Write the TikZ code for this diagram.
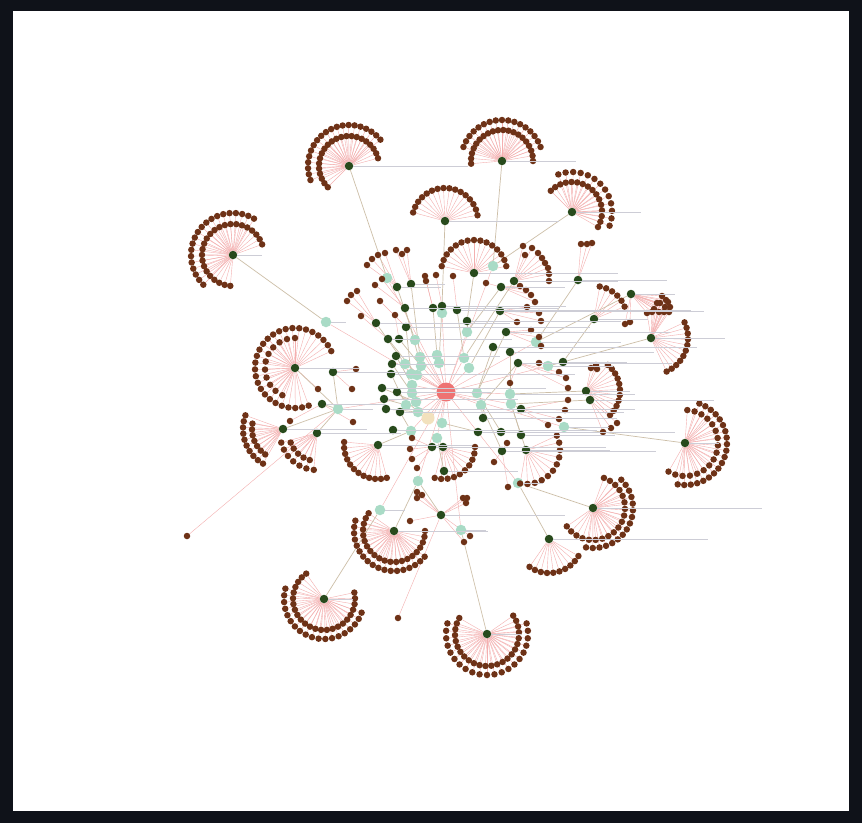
\documentclass[tikz,border=0pt]{standalone}
\usepackage{tikz}
\definecolor{framebg}{HTML}{0F1219}
\definecolor{hubgreen}{HTML}{284A1C}
\definecolor{leafbrown}{HTML}{6E3217}
\definecolor{mintgreen}{HTML}{A9DBC6}
\definecolor{rootred}{HTML}{EE7272}
\definecolor{seedbeige}{HTML}{F2E1BD}
\definecolor{edgepink}{HTML}{F4AFAF}
\definecolor{edgetan}{HTML}{CDBFA8}
\definecolor{labelgray}{HTML}{CDCDD6}
\pgfdeclarelayer{bg}
\pgfdeclarelayer{edges}
\pgfsetlayers{bg,edges,main}
\tikzset{
  hub/.style={circle, fill=hubgreen, inner sep=0pt, minimum size=8.5pt},
  leaf/.style={circle, fill=leafbrown, inner sep=0pt, minimum size=6.5pt},
  mint/.style={circle, fill=mintgreen, inner sep=0pt, minimum size=10.5pt},
  rootnode/.style={circle, fill=rootred, inner sep=0pt, minimum size=19pt},
  seed/.style={circle, fill=seedbeige, inner sep=0pt, minimum size=13pt},
  pinkedge/.style={draw=edgepink, line width=0.4pt},
  tanedge/.style={draw=edgetan, line width=0.7pt},
  lbl/.style={draw=labelgray, line width=0.35pt}
}
% fans of leaves: hub/tag/from/to/count/radius
\def\fanlist{h1/a/20/265/24/31, h1/b/60/225/20/42, h2/a/15/225/22/30,
  h2/b/40/200/20/41, h3/a/0/185/20/31, h3/b/20/160/17/41, h4/a/10/165/16/33,
  h5/a/-30/135/16/30, h5/b/-20/110/13/40, h6/a/12/168/15/33,
  h7/a/25/290/28/40, h7/b/90/245/11/30, h8/a/160/240/10/40, h8/b/170/235/7/31,
  g46/a/195/265/7/37, g46/b/200/255/5/28, h9/a/25/-65/11/37,
  h11/a/86/-120/17/33, h11/b/70/-100/20/42, h12/a/70/-145/19/32,
  h12/b/45/-100/16/40, h13/a/-125/-30/10/34, h14/a/145/360/21/31,
  h14/b/165/320/18/40, h15/a/125/372/24/31, h15/b/165/340/19/40,
  h16/a/150/395/24/32, h16/b/165/375/21/41, g32/a/50/-45/11/34,
  g39/a/0/-105/10/32, g41/a/25/-100/11/34, g42/a/175/285/12/34,
  g47/a/22/80/6/33}
% loose leaves: x/y/parent
\def\leaflist{367/265/g4, 372/259/g4, 378/255/g4, 385/253/g4,
  396/250/g5, 402/254/g5, 407/250/g5, 347/301/g12, 351/295/g12, 357/291/g12,
  361/316/g15, 375/285/g6, 382/279/g6, 380/301/g13, 395/315/g16, 425/276/g7,
  426/281/g7, 436/275/g8, 453/276/g9, 523/246/g1, 532/248/g1, 538/253/g1,
  542/258/g1, 545/263/g1, 548/268/g1, 549/274/g1, 549/281/g1, 525/255/g1,
  486/283/g2, 520/286/g2, 526/290/g2, 531/295/g2, 535/302/g2, 527/307/g10,
  539/313/g10, 541/321/g10, 517/322/g10, 531/330/g14, 539/337/g14, 541/346/g14,
  581/244/g3, 587/244/g3, 592/243/g3, 539/363/g22, 559/372/g22, 566/378/g22,
  568/388/g22, 510/383/g22, 568/400/g31, 565/410/g31, 559/419/g31, 548/425/g31,
  591/368/g32, 596/365/g32, 597/369/g32, 617/423/g33, 611/428/g33, 603/432/g33,
  507/443/g40, 494/462/g40, 508/487/g40, 356/369/g24, 352/389/g24, 318/389/h7,
  290/421/g45, 353/422/g45, 412/438/g38, 410/449/g38, 412/459/g38, 417/468/g38,
  417/492/g44, 422/495/g44, 417/498/g44, 463/498/g44, 467/498/g44, 466/503/g44,
  464/542/g44, 470/536/g44, 410/521/g44, 398/618/g44, 625/324/h10, 630/322/h10,
  187/536/m31, 662/296/h10, 666/300/h10, 668/302/h10, 657/303/h10, 660/303/h10,
  665/307/h10, 670/307/h10, 654/309/h10, 659/312/h10, 664/312/h10, 669/312/h10,
  652/312/h10, 647/313/h10}
\begin{document}
\begin{tikzpicture}[x=1pt, y=-1pt]
\begin{pgfonlayer}{bg}
  \fill[framebg] (0,0) rectangle (862,823);
  \fill[white] (13,11) rectangle (849,811);
\end{pgfonlayer}
\useasboundingbox (0,0) rectangle (862,823);

% mint nodes
\foreach \n/\x/\y in {m1/326/322, m2/387/278, m3/493/266, m4/442/313, m5/467/332,
  m6/415/340, m7/536/342, m8/420/357, m9/437/355, m10/464/358, m11/405/364,
  m12/421/366, m13/439/363, m14/469/368, m15/411/374, m16/417/375, m17/548/366,
  m18/412/385, m19/412/393, m20/477/393, m21/510/394, m22/481/405, m23/511/404,
  m24/406/405, m25/416/402, m26/418/412, m27/442/423, m28/411/431, m29/437/438,
  m30/564/427, m31/338/409, m32/418/481, m33/518/483, m34/380/510, m35/461/530}
  \node[mint] (\n) at (\x,\y) {};
\node[rootnode] (root) at (446,392) {};
\node[seed] (seed) at (428,418) {};

% hubs
\foreach \n/\x/\y in {h1/233/255, h2/349/166, h3/502/161, h4/445/221, h5/572/212,
  h6/474/273, h7/295/368, h8/283/429, h9/651/338, h10/631/294, h11/685/443,
  h12/593/508, h13/549/539, h14/394/531, h15/324/599, h16/487/634,
  g1/514/281, g2/501/287, g3/578/280, g4/397/287, g5/411/284, g6/405/308,
  g7/433/308, g8/442/306, g9/457/310, g10/500/311, g11/467/321, g12/376/323,
  g13/406/327, g14/506/332, g15/388/339, g16/399/339, g17/493/347, g18/510/352,
  g19/396/356, g20/392/364, g21/391/374, g22/518/363, g23/563/362, g24/333/372,
  g25/382/388, g26/384/399, g27/397/392, g28/386/409, g29/400/412, g30/483/418,
  g31/521/409, g32/586/391, g33/590/400, g34/501/432, g35/478/432, g36/521/435,
  g37/393/430, g38/432/447, g39/443/447, g40/502/451, g41/526/450, g42/378/445,
  g43/444/471, g44/441/515, g45/322/404, g46/317/433, g47/594/319}
  \node[hub] (\n) at (\x,\y) {};

% leaves
\foreach \h/\t/\f/\e/\n/\r in \fanlist
  \foreach \i in {1,...,\n}{
    \pgfmathsetmacro\fanang{-(\f)-((\e)-(\f))*(\i-1)/(\n-1)}
    \node[leaf] (\h\t\i) at ([shift={(\fanang:\r)}]\h) {};
  }
\foreach \x/\y/\p [count=\k] in \leaflist
  \node[leaf] (lf\k) at (\x,\y) {};

% connectors
\begin{pgfonlayer}{edges}
  \foreach \i in {1,...,35} \draw[pinkedge] (root) -- (m\i);
  \draw[pinkedge] (root) -- (seed);
  \foreach \h/\t/\f/\e/\n/\r in \fanlist
    \foreach \i in {1,...,\n} \draw[pinkedge] (\h) -- (\h\t\i);
  \foreach \x/\y/\p [count=\k] in \leaflist \draw[pinkedge] (\p) -- (lf\k);
  \foreach \k in {84,...,96} \draw[pinkedge] (h9) -- (lf\k);
  \foreach \a/\b in {h1/m1, h2/m2, h3/m3, h5/m3, h4/g8, h6/g11, h7/m31, h8/m31,
    g46/m31, g45/m31, g24/m31, h9/g23, g47/g23, h10/m7, g3/m7, h11/m30, h12/m33,
    h13/m33, h14/m32, g44/m32, h15/m34, h16/m35, g1/m10, g2/m5, g4/m6, g5/m8,
    g6/m12, g7/m9, g8/m13, g9/m10, g10/m14, g11/m5, g12/m11, g13/m15, g14/m20,
    g15/m16, g16/m12, g17/m20, g18/m21, g19/m18, g20/m19, g21/m24, g22/m22,
    g23/m17, g25/m25, g26/m24, g27/m26, g28/m26, g29/m28, g30/m22, g31/m23,
    g32/m21, g33/m23, g34/m20, g35/m27, g36/m23, g37/m28, g38/m29, g39/m29,
    g40/m22, g41/m23, g42/m28, g43/m29}
    \draw[tanedge] (\a) -- (\b);
\end{pgfonlayer}

% labels, too small to read
\foreach \n/\l in {h1/25, h2/115, h3/70, h4/110, h5/65, h6/140, h7/60, h8/80,
  h9/70, h10/40, h11/30, h12/165, h13/155, h14/90, h15/25, h16/30,
  g1/100, g2/60, g3/85, g4/40, g5/30, g6/150, g7/40, g8/120, g9/230, g10/200,
  g11/150, g12/130, g13/180, g14/160, g15/120, g16/100, g17/200, g18/140,
  g19/100, g20/60, g21/180, g22/150, g23/60, g24/70, g25/160, g26/130, g27/90,
  g28/200, g29/220, g30/130, g31/110, g32/40, g33/120, g34/170, g35/100,
  g36/90, g37/200, g38/170, g39/60, g40/150, g41/80, g42/90, g43/70, g44/120,
  g45/60, g46/80, g47/50, m1/15, m7/80, m17/60, m21/120, m30/40, m33/20,
  m34/20, m35/20, m31/30}
  \draw[lbl] (\n.east) -- ++(\l,0);
\end{tikzpicture}
\end{document}
